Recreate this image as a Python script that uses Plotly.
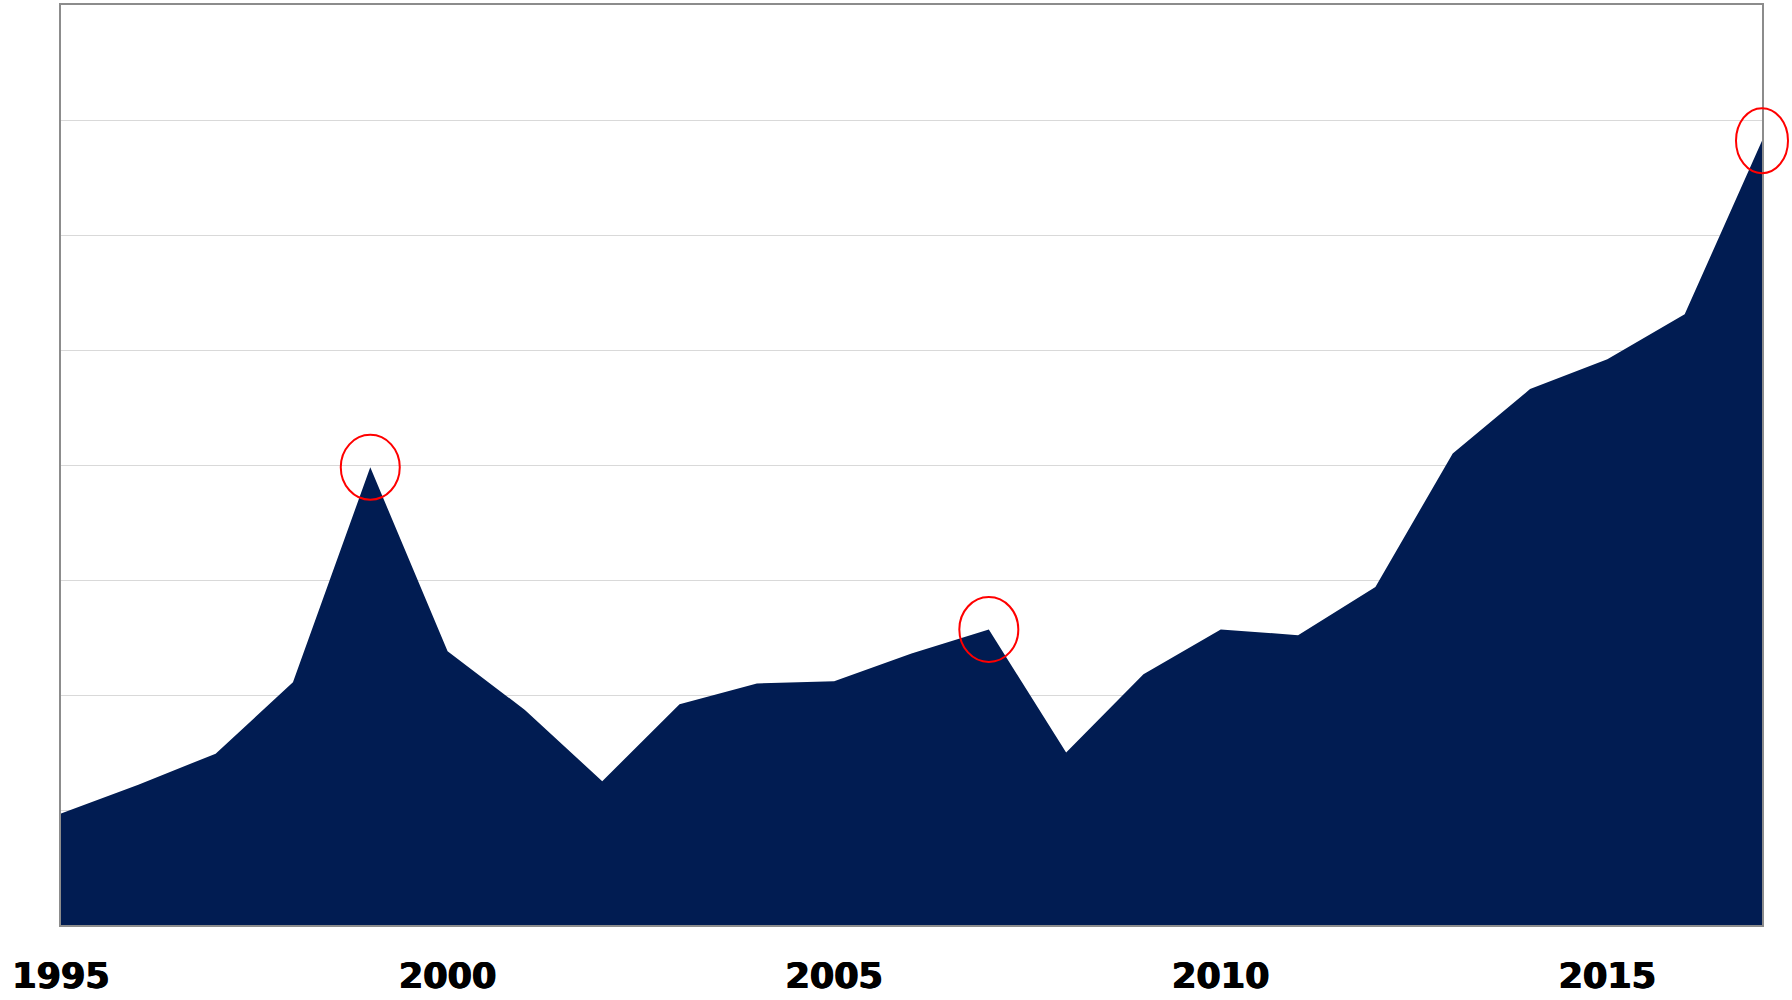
import plotly.graph_objects as go

years = list(range(1995, 2018))
values = [0.97, 1.22, 1.49, 2.11, 3.98, 2.38, 1.87, 1.25, 1.92, 2.10, 2.12, 2.36,
          2.57, 1.50, 2.18, 2.57, 2.52, 2.94, 4.10, 4.66, 4.92, 5.31, 6.82]
tick_years = [1995, 2000, 2005, 2010, 2015]
highlight_years = [1999, 2007, 2017]

x_range = [1995, 2017]
y_range = [0, 8]

fig = go.Figure()
fig.add_trace(go.Scatter(
    x=years, y=values, mode="lines", fill="tozeroy",
    line=dict(color="#011C52", width=0), fillcolor="#011C52",
    hoverinfo="x+y", showlegend=False,
))

# red ellipses around highlighted points (anchored at data positions)
for yr in highlight_years:
    v = values[years.index(yr)]
    xf = (yr - x_range[0]) / (x_range[1] - x_range[0])
    yf = (v - y_range[0]) / (y_range[1] - y_range[0])
    hw = 26 if yr == 2017 else 29.5
    fig.add_shape(
        type="circle", xref="paper", yref="paper",
        xsizemode="pixel", ysizemode="pixel",
        xanchor=xf, yanchor=yf,
        x0=-hw, x1=hw, y0=-32.5, y1=32.5,
        line=dict(color="#FF0000", width=2), fillcolor="rgba(0,0,0,0)",
        layer="above",
    )

fig.update_layout(
    width=1792, height=1000,
    margin=dict(l=61, r=30, t=5, b=75, autoexpand=False),
    plot_bgcolor="white", paper_bgcolor="white",
    showlegend=False,
)
fig.update_xaxes(
    range=x_range, tickvals=tick_years, ticktext=[str(t) for t in tick_years],
    showgrid=False, zeroline=False, automargin=False,
    showline=True, mirror=True, linecolor="#8C8C8C", linewidth=2,
    ticks="outside", ticklen=19, tickcolor="rgba(0,0,0,0)",
    tickfont=dict(family="DejaVu Sans", size=35, color="black", weight="bold",
                  shadow="0.7px 0 0 black, -0.7px 0 0 black"),
)
fig.update_yaxes(
    range=y_range, dtick=1, showticklabels=False, automargin=False,
    showgrid=True, gridcolor="#D9D9D9", gridwidth=1, zeroline=False,
    showline=True, mirror=True, linecolor="#8C8C8C", linewidth=2,
)

fig.write_html(
    "out.html",
    config={"displayModeBar": False},
    post_script="document.body.style.margin='0';document.body.style.overflow='hidden';",
)
